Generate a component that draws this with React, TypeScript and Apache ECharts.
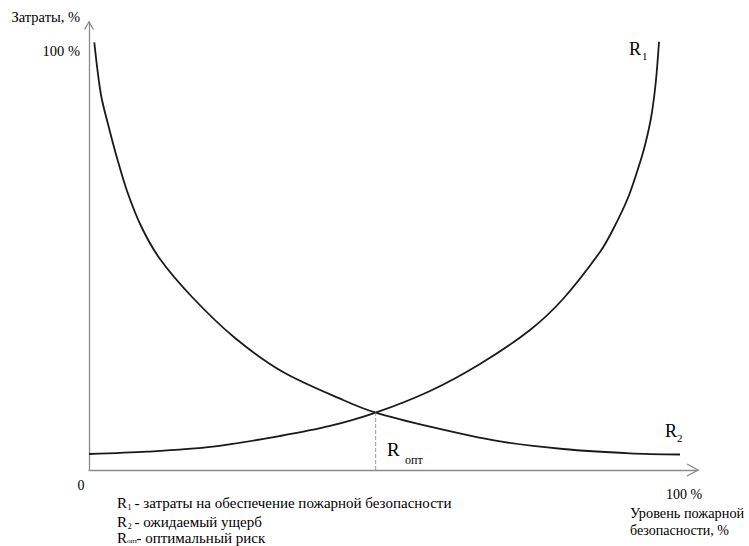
import React, { useEffect, useRef } from 'react';
import * as echarts from 'echarts';

const FONT = "'Liberation Serif', 'Times New Roman', Times, serif";

// R1 — затраты на обеспечение пожарной безопасности (уровень, %; затраты, %)
const r1Level = [0, 9.75, 20.84, 32.1, 40.5, 48.18, 57.31, 65.71, 74.12, 79.66, 85.88, 88.02, 90.64, 92.89, 93.78, 94.62, 95.29, 95.8];
const r1Cost = [3.82, 4.37, 5.56, 8.12, 10.51, 13.69, 18.87, 25.32, 33.44, 40.84, 52.07, 57.32, 65.2, 74.76, 79.53, 85.5, 93.14, 102.29];

// R2 — ожидаемый ущерб
const r2Level = [0.89, 2.02, 3.45, 4.71, 6.39, 8.74, 11.93, 17.48, 24.54, 32.61, 42.69, 48.18, 57.31, 68.57, 79.66, 90.92, 99.33];
const r2Cost = [102.15, 89.56, 81.2, 74.52, 66.63, 58.28, 50.39, 41.08, 31.53, 23.41, 16.72, 13.69, 10.34, 6.93, 5.02, 3.99, 3.7];

// точка оптимального риска (пересечение R1 и R2)
const optimum = [48.18, 13.69];

const X_MAX = 102.35;
const Y_MAX = 107;

const zip = (xs: number[], ys: number[]) => xs.map((x, i) => [x, ys[i]]);

const AXIS_COLOR = '#8a8a8a';
const CURVE_COLOR = '#1a1a1a';

function txt(text: string, x: number, y: number, size: number, align: string = 'left') {
  return {
    type: 'text',
    x,
    y,
    silent: true,
    style: {
      text,
      fontSize: size,
      fontFamily: FONT,
      fill: '#000',
      align,
      textAlign: align,
      verticalAlign: 'middle',
      textVerticalAlign: 'middle',
    },
  };
}

export default function App() {
  const ref = useRef<HTMLDivElement>(null);

  useEffect(() => {
    document.body.style.margin = '0';
    const chart = echarts.init(ref.current!, null, { renderer: 'svg' });

    const curve = (name: string, data: number[][]) => ({
      name,
      type: 'line',
      data,
      showSymbol: false,
      smooth: 0.3,
      clip: false,
      silent: true,
      lineStyle: { color: CURVE_COLOR, width: 1.8 },
    });

    chart.setOption({
      animation: false,
      backgroundColor: '#fff',
      textStyle: { fontFamily: FONT },
      grid: { left: 89, top: 22, width: 609, height: 448, containLabel: false },
      xAxis: {
        type: 'value',
        min: 0,
        max: X_MAX,
        interval: 100,
        axisLine: { show: true, lineStyle: { color: AXIS_COLOR, width: 1.3 } },
        axisTick: { show: false },
        splitLine: { show: false },
        axisLabel: {
          margin: 17,
          fontFamily: FONT,
          fontSize: 14,
          color: '#000',
          showMaxLabel: false,
          formatter: (v: number) => (v === 100 ? '100 %' : ''),
        },
      },
      yAxis: {
        type: 'value',
        min: 0,
        max: Y_MAX,
        interval: 100,
        axisLine: { show: true, lineStyle: { color: AXIS_COLOR, width: 1.3 } },
        axisTick: { show: false },
        splitLine: { show: false },
        axisLabel: {
          margin: 9,
          fontFamily: FONT,
          fontSize: 14.5,
          color: '#000',
          showMaxLabel: false,
          formatter: (v: number) => (v === 100 ? '100 %' : ''),
        },
      },
      series: [
        curve('R1', zip(r1Level, r1Cost)),
        curve('R2', zip(r2Level, r2Cost)),
        {
          name: 'Rопт',
          type: 'line',
          data: [[optimum[0], 0], [optimum[0], optimum[1]]],
          showSymbol: false,
          silent: true,
          lineStyle: { color: '#9a9a9a', width: 1, type: [4, 2] },
        },
      ],
    });

    const px = (p: number[]) => chart.convertToPixel({ gridIndex: 0 }, p) as number[];
    const origin = px([0, 0]);
    const yTop = px([0, Y_MAX]);
    const xEnd = px([X_MAX, 0]);

    const arrowStyle = { stroke: AXIS_COLOR, lineWidth: 1.3, fill: null };

    chart.setOption({
      graphic: [
        // стрелки осей
        {
          type: 'polyline',
          silent: true,
          shape: { points: [[yTop[0] - 4.5, yTop[1] + 7.5], [yTop[0], yTop[1]], [yTop[0] + 4.5, yTop[1] + 7.5]] },
          style: arrowStyle,
        },
        {
          type: 'polyline',
          silent: true,
          shape: { points: [[xEnd[0] - 11, xEnd[1] - 6], [xEnd[0], xEnd[1]], [xEnd[0] - 11, xEnd[1] + 6]] },
          style: arrowStyle,
        },
        // подписи осей
        txt('Затраты, %', 11.5, 17, 14.5),
        txt('0', origin[0] - 8, origin[1] + 15, 14, 'center'),
        txt('Уровень пожарной', 630, 513, 14.3),
        txt('безопасности, %', 630, 530.5, 14),
        // обозначения кривых
        txt('R', 629, 49, 18),
        txt('1', 642, 56, 11),
        txt('R', 665, 431, 18),
        txt('2', 677, 437.5, 11),
        txt('R', 387, 449.5, 19),
        txt('опт', 405, 460, 12),
        // пояснения
        txt('R', 117, 503.3, 15),
        txt('1', 127.5, 507.5, 8),
        txt('- затраты на обеспечение пожарной безопасности', 134.5, 503.3, 15),
        txt('R', 117, 521.7, 15),
        txt('2', 127.7, 526, 8),
        txt('- ожидаемый ущерб', 134.5, 521.7, 15),
        txt('R', 117, 537.5, 15),
        txt('опт', 127, 541, 7),
        txt('- оптимальный риск', 136.5, 537.5, 15),
      ],
    });

    return () => chart.dispose();
  }, []);

  return <div ref={ref} style={{ width: 749, height: 546 }} />;
}
